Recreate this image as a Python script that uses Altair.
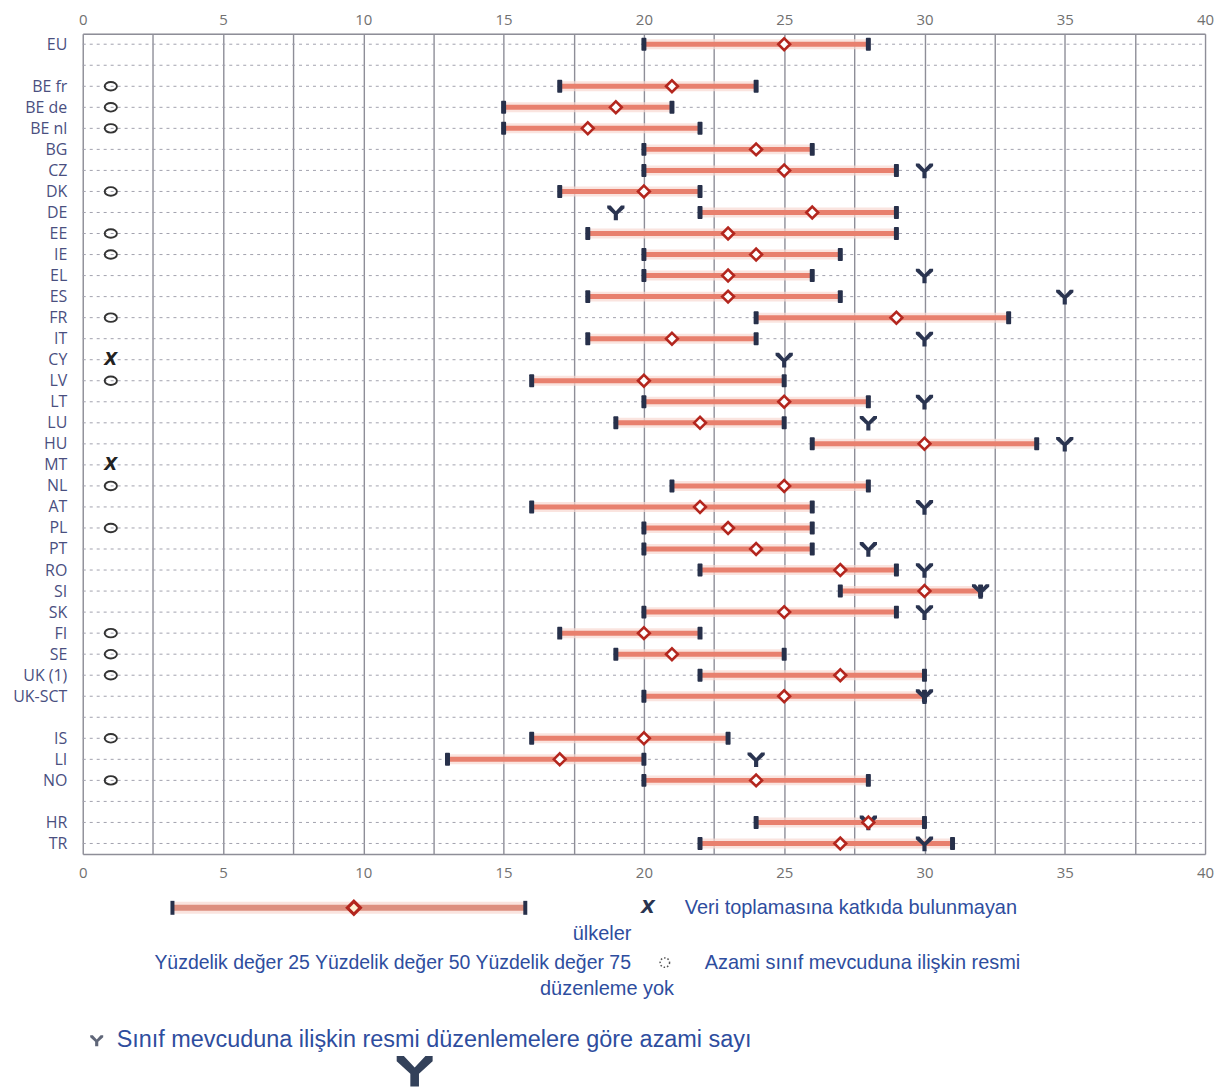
import altair as alt
import pandas as pd
import numpy as np

# ---------------- data ----------------
rows = ["EU", "_b1", "BE fr", "BE de", "BE nl", "BG", "CZ", "DK", "DE", "EE", "IE", "EL", "ES",
        "FR", "IT", "CY", "LV", "LT", "LU", "HU", "MT", "NL", "AT", "PL", "PT", "RO", "SI", "SK",
        "FI", "SE", "UK (1)", "UK-SCT", "_b2", "IS", "LI", "NO", "_b3", "HR", "TR"]

countries = ["EU", "BE fr", "BE de", "BE nl", "BG", "CZ", "DK", "DE", "EE", "IE", "EL", "ES",
             "FR", "IT", "CY", "LV", "LT", "LU", "HU", "MT", "NL", "AT", "PL", "PT", "RO", "SI",
             "SK", "FI", "SE", "UK (1)", "UK-SCT", "IS", "LI", "NO", "HR", "TR"]
p25 = [20, 17, 15, 15, 20, 20, 17, 22, 18, 20, 20, 18, 24, 18, None, 16, 20, 19, 26, None,
       21, 16, 20, 20, 22, 27, 20, 17, 19, 22, 20, 16, 13, 20, 24, 22]
p50 = [25, 21, 19, 18, 24, 25, 20, 26, 23, 24, 23, 23, 29, 21, None, 20, 25, 22, 30, None,
       25, 22, 23, 24, 27, 30, 25, 20, 21, 27, 25, 20, 17, 24, 28, 27]
p75 = [28, 24, 21, 22, 26, 29, 22, 29, 29, 27, 26, 27, 33, 24, None, 25, 28, 25, 34, None,
       28, 26, 26, 26, 29, 32, 29, 22, 25, 30, 30, 23, 20, 28, 30, 31]
max_reg = [None, None, None, None, None, 30, None, 19, None, None, 30, 35, None, 30, 25, None,
           30, 28, 35, None, None, 30, None, 28, 30, 32, 30, None, None, None, 30, None, 24,
           None, 28, 30]

no_regulation = ["BE fr", "BE de", "BE nl", "DK", "EE", "IE", "FR", "LV", "NL", "PL", "FI",
                 "SE", "UK (1)", "IS", "NO"]
no_data = ["CY", "MT"]

x_ticks = [0, 2.5, 5, 7.5, 10, 12.5, 15, 17.5, 20, 22.5, 25, 27.5, 30, 32.5, 35, 37.5, 40]

legend_texts = {
    "veri": "Veri toplamasına katkıda bulunmayan",
    "ulkeler": "ülkeler",
    "yuzde": "Yüzdelik değer 25 Yüzdelik değer 50 Yüzdelik değer 75",
    "azami": "Azami sınıf mevcuduna ilişkin resmi",
    "duz": "düzenleme yok",
    "sinif": "Sınıf mevcuduna ilişkin resmi düzenlemelere göre azami sayı",
}

# ---------------- styling ----------------
W, H = 1126, 823
BAR = "#e8806e"
HALO = "#f8d9d2"
CAP = "#27304a"
MED = "#b3261e"
NAVY = "#2a3450"
GRID = "#8e8e98"
LEG = "#2e4d9e"
LEGFONT = "Liberation Sans"
Y_SHAPE = ("M-1,-0.8 L-0.6,-0.8 L0,-0.15 L0.6,-0.8 L1,-0.8 L1,-0.5 L0.24,0.2 L0.24,0.9 "
           "L-0.24,0.9 L-0.24,0.2 L-1,-0.5 Z")
ELLIPSE = "M-1,0 A1,0.7 0 1,1 1,0 A1,0.7 0 1,1 -1,0 Z"

df = pd.DataFrame({"row": countries, "p25": p25, "p50": p50, "p75": p75, "maxreg": max_reg})
rows_df = pd.DataFrame({"row": rows})
noreg_df = pd.DataFrame({"row": no_regulation})
nodata_df = pd.DataFrame({"row": no_data})

xscale = alt.Scale(domain=[0, 40], nice=False, zero=False)
yscale = alt.Scale(type="point", domain=rows, padding=0.5)

y_axis = alt.Axis(
    labelExpr="indexof(datum.label, '_b') == 0 ? '' : datum.label",
    ticks=False, domain=False, grid=False, labelPadding=16, labelFontSize=16,
    labelFont="Open Sans", labelColor="#4a4f7f", minExtent=75, maxExtent=75, title=None,
)
Y = alt.Y("row:N", scale=yscale, axis=y_axis, sort=rows)
Yn = alt.Y("row:N", scale=yscale, sort=rows)

top_axis = alt.Axis(
    orient="top", values=x_ticks, labelExpr="datum.value % 5 == 0 ? datum.label : ''",
    grid=True, gridColor=GRID, gridWidth=1.4, ticks=False, domainColor=GRID, domainWidth=1.5,
    labelPadding=6, labelFontSize=15, labelFont="Open Sans", labelColor="#707070",
    minExtent=24, maxExtent=24, title=None, labelFlush=False,
)
bottom_axis = alt.Axis(
    orient="bottom", values=x_ticks, labelExpr="datum.value % 5 == 0 ? datum.label : ''",
    grid=False, ticks=False, domainColor=GRID, domainWidth=1.5,
    labelPadding=12, labelFontSize=15, labelFont="Open Sans", labelColor="#707070",
    title=None, labelFlush=False,
)

# dotted row lines
dotted = alt.Chart(rows_df).mark_rule(color="#a2a2ae", strokeDash=[3, 4], strokeWidth=1).encode(
    y=Y, x=alt.value(0), x2=alt.value(W)
)

valid = "isValid(datum.p25)"
halo = alt.Chart(df).transform_filter(valid).mark_rule(color=HALO, strokeWidth=10, opacity=0.7).encode(
    x=alt.X("p25:Q", scale=xscale, axis=top_axis), x2="p75:Q", y=Yn
)
bar = alt.Chart(df).transform_filter(valid).mark_rule(color=BAR, strokeWidth=5).encode(
    x=alt.X("p25:Q", scale=xscale, axis=None), x2="p75:Q", y=Yn
)
cap_lo = alt.Chart(df).transform_filter(valid).mark_tick(
    color=CAP, thickness=5, size=13, cornerRadius=1, opacity=1
).encode(x=alt.X("p25:Q", scale=xscale, axis=None), y=Yn)
cap_hi = alt.Chart(df).transform_filter(valid).mark_tick(
    color=CAP, thickness=5, size=13, cornerRadius=1, opacity=1
).encode(x=alt.X("p75:Q", scale=xscale, axis=None), y=Yn)
median = alt.Chart(df).transform_filter(valid).mark_point(
    shape="diamond", size=140, filled=True, fill="white", stroke=MED, strokeWidth=2.6, opacity=1
).encode(x=alt.X("p50:Q", scale=xscale, axis=bottom_axis), y=Yn)
maxpts = alt.Chart(df).transform_filter("isValid(datum.maxreg)").mark_point(
    shape=Y_SHAPE, size=300, filled=True, color=NAVY, opacity=1
).encode(x=alt.X("maxreg:Q", scale=xscale, axis=None), y=Yn)

circles = alt.Chart(noreg_df).transform_calculate(pos="1").mark_point(
    shape=ELLIPSE, size=150, filled=False, stroke="#333333", strokeWidth=1.9, opacity=1
).encode(x=alt.X("pos:Q", scale=xscale, axis=None), y=Yn)
crosses = alt.Chart(nodata_df).transform_calculate(pos="1", sym="'X'").mark_text(
    font="DejaVu Sans", fontStyle="italic", fontWeight="bold", fontSize=17, color="#222222"
).encode(x=alt.X("pos:Q", scale=xscale, axis=None), y=Yn, text="sym:N")

# ---------------- legend (below the plot) ----------------
one = pd.DataFrame({"k": [0]})


def ltext(key, x, y, align="left", size=20):
    return alt.Chart(pd.DataFrame({"t": [legend_texts[key]]})).mark_text(
        font=LEGFONT, fontSize=size, color=LEG, align=align, baseline="middle"
    ).encode(text="t:N", x=alt.value(x), y=alt.value(y))


leg_halo = alt.Chart(one).mark_rule(color=HALO, strokeWidth=12, opacity=0.7).encode(
    x=alt.value(89), x2=alt.value(445), y=alt.value(877))
leg_bar = alt.Chart(one).mark_rule(color="#dd8f7f", strokeWidth=6).encode(
    x=alt.value(89), x2=alt.value(445), y=alt.value(877))
leg_cap1 = alt.Chart(one).mark_rule(color=CAP, strokeWidth=4).encode(
    x=alt.value(90), y=alt.value(870), y2=alt.value(884))
leg_cap2 = alt.Chart(one).mark_rule(color=CAP, strokeWidth=4).encode(
    x=alt.value(444), y=alt.value(870), y2=alt.value(884))
leg_med = alt.Chart(one).mark_point(
    shape="diamond", size=170, filled=True, fill="#fdf1d4", stroke=MED, strokeWidth=3.2, opacity=1
).encode(x=alt.value(272), y=alt.value(877))
leg_x = alt.Chart(pd.DataFrame({"t": ["X"]})).mark_text(
    font="DejaVu Sans", fontStyle="italic", fontWeight="bold", fontSize=18, color=NAVY
).encode(text="t:N", x=alt.value(567), y=alt.value(877))
leg_circ = alt.Chart(one).mark_point(
    shape="circle", size=90, filled=False, stroke="#555555", strokeWidth=1.5, strokeDash=[1.5, 2], opacity=1
).encode(x=alt.value(584), y=alt.value(932))
leg_y_small = alt.Chart(one).mark_point(
    shape=Y_SHAPE, size=170, filled=True, color="#5f6678", opacity=1
).encode(x=alt.value(14), y=alt.value(1010))
leg_y_big = alt.Chart(one).mark_point(
    shape=Y_SHAPE, size=1300, filled=True, color="#33415a", opacity=1
).encode(x=alt.value(333), y=alt.value(1040))

chart = alt.layer(
    dotted, halo, bar, cap_lo, cap_hi, maxpts, median, circles, crosses,
    leg_halo, leg_bar, leg_cap1, leg_cap2, leg_med, leg_x, leg_circ, leg_y_small, leg_y_big,
    ltext("veri", 604, 877), ltext("ulkeler", 521, 903, "center"),
    ltext("yuzde", 550, 932, "right", 19.5), ltext("azami", 624, 932),
    ltext("duz", 526, 958, "center"), ltext("sinif", 34, 1010, "left", 23.5),
).resolve_axis(x="independent").properties(
    width=W, height=H, padding={"left": 0, "top": 0, "right": 5, "bottom": 0}
).configure_view(stroke=None).configure(background="white")

chart.save("out.html", embed_options={"renderer": "svg", "actions": False})
